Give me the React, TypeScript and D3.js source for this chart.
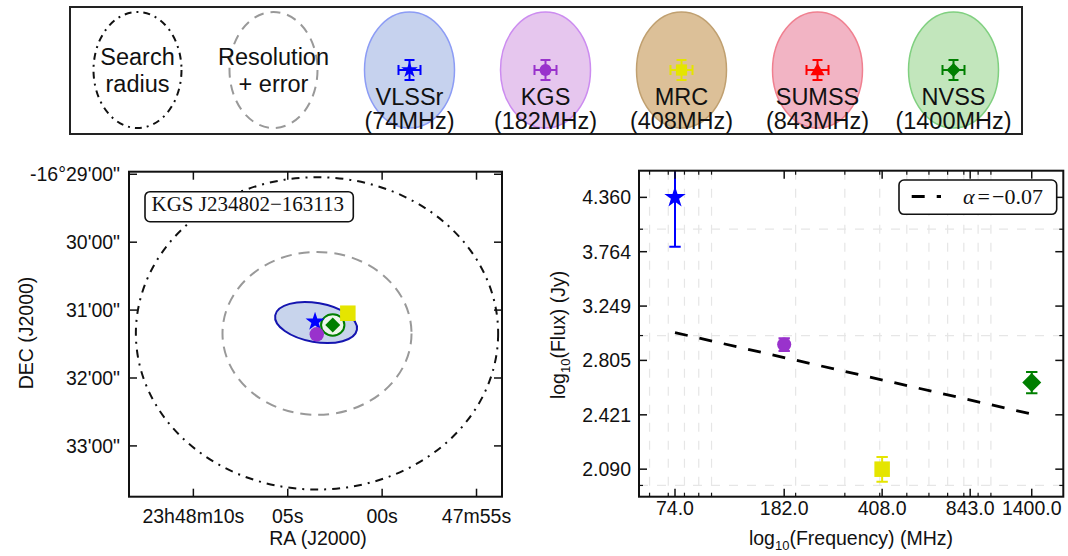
import React from 'react';
import * as d3 from 'd3';

// ---------- Top legend ----------
const legendLabels = ['Search', 'Resolution', 'VLSSr', 'KGS', 'MRC', 'SUMSS', 'NVSS'];
const legendSubLabels = ['radius', '+ error', '(74MHz)', '(182MHz)', '(408MHz)', '(843MHz)', '(1400MHz)'];
const catalogColors = ['#0000ff', '#9932cc', '#e5e500', '#ff0000', '#007f00'];
const catalogFills = ['#c6d2ee', '#e6c6ee', '#dcc098', '#f2b4c4', '#c2e6bc'];
const catalogStrokes = ['#8c9cf5', '#cc8cf0', '#c0a070', '#f08090', '#80d080'];
const catalogMarkers = ['star', 'circle', 'square', 'triangle', 'diamond'];

// ---------- Position panel (RA seconds after 23h48m00s, Dec arcmin south of -16°) ----------
const raTicks = [10, 5, 0, -5];
const raTickLabels = ['23h48m10s', '05s', '00s', '47m55s'];
const decTicks = [29, 30, 31, 32, 33];
const decTickLabels = ['-16°29\'00"', '30\'00"', '31\'00"', '32\'00"', '33\'00"'];
const srcRA = [3.554, 3.464, 1.817, 2.617]; // VLSSr, KGS, MRC, NVSS
const srcDec = [31.171, 31.356, 31.046, 31.219];
const srcMarkers = ['star', 'circle', 'square', 'diamond'];
const srcColors = ['#0000ff', '#9932cc', '#e5e500', '#007f00'];
const searchCenterRA = 3.45;
const searchCenterDec = 31.343;
const searchRadiusArcsec = 138;
const resolutionRadiusArcsec = 72;
const vlssrEllRA = 3.5;
const vlssrEllDec = 31.183;
const vlssrEllAxes = [31.6, 17.2]; // arcsec
const vlssrEllAngle = 10; // deg on screen
const nvssEllAxes = [8.9, 9.5];
const sourceName = 'KGS J234802\u2212163113';

// ---------- SED panel ----------
const sedFreq = [74, 182, 408, 1400];
const sedFlux = [4.36, 2.928, 2.09, 2.643];
const sedErr = [0.545, 0.05, 0.07, 0.076];
const sedMarkers = ['star', 'circle', 'square', 'diamond'];
const sedColors = ['#0000ff', '#9932cc', '#e5e500', '#007f00'];
const fitFreq = [74, 1400];
const fitFlux = [3.024, 2.426];
const fitLabel = '\u2212' + '0.07';
const freqTicks = [74, 182, 408, 843, 1400];
const freqMinor = [60, 70, 80, 90, 100, 200, 300, 400, 500, 600, 700, 800, 900, 1000];
const fluxTicks = [4.36, 3.764, 3.249, 2.805, 2.421, 2.09];
const fluxMinor = [2, 3, 4];

const SANS = 'Liberation Sans, Arial, sans-serif';
const SERIF = 'Liberation Serif, Times New Roman, serif';

function starPts(cx: number, cy: number, R: number) {
  const r = R * 0.382;
  const pts: string[] = [];
  for (let i = 0; i < 10; i++) {
    const a = (-90 + i * 36) * Math.PI / 180;
    const rr = i % 2 === 0 ? R : r;
    pts.push(`${cx + rr * Math.cos(a)},${cy + rr * Math.sin(a)}`);
  }
  return pts.join(' ');
}

function Marker({ type, cx, cy, s, color }: { type: string; cx: number; cy: number; s: number; color: string }) {
  if (type === 'star') return <polygon points={starPts(cx, cy, s * 1.25)} fill={color} />;
  if (type === 'circle') return <circle cx={cx} cy={cy} r={s * 0.85} fill={color} />;
  if (type === 'square') return <rect x={cx - s * 0.8} y={cy - s * 0.8} width={s * 1.6} height={s * 1.6} fill={color} />;
  if (type === 'triangle')
    return <polygon points={`${cx},${cy - s} ${cx + s},${cy + s * 0.75} ${cx - s},${cy + s * 0.75}`} fill={color} />;
  return <polygon points={`${cx},${cy - s} ${cx + s},${cy} ${cx},${cy + s} ${cx - s},${cy}`} fill={color} />;
}

export default function App() {
  // ---------- scales ----------
  const legendX = d3.scalePoint<string>().domain(legendLabels).range([137.5, 953.5]);
  const ra = d3.scaleLinear().domain([13.41, -6.35]).range([129, 502]);
  const dec = d3.scaleLinear().domain([28.962, 33.748]).range([171.7, 496.7]);
  const arcsecPerSec = 15 * Math.cos((16.52 * Math.PI) / 180);
  const pxX = (arcsec: number) => Math.abs(ra(arcsec / arcsecPerSec) - ra(0));
  const pxY = (arcsec: number) => Math.abs(dec(arcsec / 60) - dec(0));

  const fx = d3.scaleLog().domain([55, 1816]).range([639, 1063.3]);
  const fy = d3.scaleLog().domain([1.94, 4.686]).range([496.7, 170.7]);
  const fitLine = d3.line<number>().x((d, i) => fx(fitFreq[i])).y((d) => fy(d));

  const L = { x0: 129, x1: 502, y0: 171.7, y1: 496.7 };
  const R = { x0: 639, x1: 1063.3, y0: 170.7, y1: 496.7 };

  return (
    <svg width={1068} height={556} style={{ position: 'absolute', left: 0, top: 0, background: '#fff' }}>
      <defs>
        <clipPath id="clipR">
          <rect x={R.x0} y={R.y0} width={R.x1 - R.x0} height={R.y1 - R.y0} />
        </clipPath>
        <clipPath id="clipL">
          <rect x={L.x0} y={L.y0} width={L.x1 - L.x0} height={L.y1 - L.y0} />
        </clipPath>
      </defs>
      <rect width={1068} height={556} fill="#fff" />

      {/* ===== Top legend ===== */}
      <rect x={70} y={7} width={952} height={127} fill="#fff" stroke="#222" strokeWidth={2} />
      {legendLabels.map((lab, i) => {
        const cx = legendX(lab) as number;
        const cy = 70;
        let shape;
        if (i === 0)
          shape = <ellipse cx={cx} cy={cy} rx={44} ry={58} fill="none" stroke="#111" strokeWidth={2} strokeDasharray="7,5,2,5" />;
        else if (i === 1)
          shape = <ellipse cx={cx} cy={cy} rx={44} ry={58} fill="none" stroke="#999" strokeWidth={2} strokeDasharray="10,7" />;
        else {
          const k = i - 2;
          const col = catalogColors[k];
          shape = (
            <g>
              <ellipse cx={cx} cy={cy} rx={45} ry={58} fill={catalogFills[k]} stroke={catalogStrokes[k]} strokeWidth={1.5} />
              <g stroke={col} strokeWidth={2}>
                <line x1={cx - 11} x2={cx + 11} y1={cy} y2={cy} />
                <line x1={cx - 11} x2={cx - 11} y1={cy - 5} y2={cy + 5} />
                <line x1={cx + 11} x2={cx + 11} y1={cy - 5} y2={cy + 5} />
                <line x1={cx} x2={cx} y1={cy - 10} y2={cy + 10} />
                <line x1={cx - 5} x2={cx + 5} y1={cy - 10} y2={cy - 10} />
                <line x1={cx - 5} x2={cx + 5} y1={cy + 10} y2={cy + 10} />
              </g>
              <Marker type={catalogMarkers[k]} cx={cx} cy={cy} s={7} color={col} />
            </g>
          );
        }
        const y1 = i < 2 ? 65 : 104.5;
        const y2 = i < 2 ? 91.7 : 128.5;
        return (
          <g key={lab}>
            {shape}
            <text x={cx} y={y1} textAnchor="middle" fontFamily={SANS} fontSize={23.5} fill="#111">{lab}</text>
            <text x={cx} y={y2} textAnchor="middle" fontFamily={SANS} fontSize={23.5} fill="#111">{legendSubLabels[i]}</text>
          </g>
        );
      })}

      {/* ===== Left: position panel ===== */}
      <g clipPath="url(#clipL)">
        <ellipse cx={ra(searchCenterRA)} cy={dec(searchCenterDec)} rx={pxX(searchRadiusArcsec)} ry={pxY(searchRadiusArcsec)}
          fill="none" stroke="#111" strokeWidth={2} strokeDasharray="8,6,2,6" />
        <ellipse cx={ra(searchCenterRA)} cy={dec(searchCenterDec)} rx={pxX(resolutionRadiusArcsec)} ry={pxY(resolutionRadiusArcsec)}
          fill="none" stroke="#999" strokeWidth={2} strokeDasharray="11,7" />
        <ellipse cx={ra(vlssrEllRA)} cy={dec(vlssrEllDec)} rx={pxX(vlssrEllAxes[0])} ry={pxY(vlssrEllAxes[1])}
          transform={`rotate(${vlssrEllAngle} ${ra(vlssrEllRA)} ${dec(vlssrEllDec)})`}
          fill="#c8d4ec" stroke="#1515b0" strokeWidth={2} />
        <ellipse cx={ra(srcRA[3])} cy={dec(srcDec[3])} rx={pxX(nvssEllAxes[0])} ry={pxY(nvssEllAxes[1])}
          fill="#eef6ec" stroke="#007f00" strokeWidth={2} />
        {srcMarkers.map((m, i) => (
          <Marker key={m} type={m} cx={ra(srcRA[i])} cy={dec(srcDec[i])}
            s={m === 'star' ? 8 : m === 'circle' ? 8.5 : m === 'square' ? 9.7 : 7.5} color={srcColors[i]} />
        ))}
      </g>
      <rect x={145} y={191.7} width={208.3} height={30} rx={5} fill="#fff" stroke="#111" strokeWidth={1.6} />
      <text x={151.5} y={210.5} fontFamily={SERIF} fontSize={21} fill="#111">{sourceName}</text>

      <rect x={L.x0} y={L.y0} width={L.x1 - L.x0} height={L.y1 - L.y0} fill="none" stroke="#111" strokeWidth={2} />
      {raTicks.map((t, i) => (
        <g key={t}>
          <line x1={ra(t)} x2={ra(t)} y1={L.y1} y2={L.y1 - 8} stroke="#111" strokeWidth={1.5} />
          <line x1={ra(t)} x2={ra(t)} y1={L.y0} y2={L.y0 + 8} stroke="#111" strokeWidth={1.5} />
          <text x={ra(t)} y={523} textAnchor="middle" fontFamily={SANS} fontSize={19.5} fill="#111">{raTickLabels[i]}</text>
        </g>
      ))}
      {decTicks.map((t, i) => (
        <g key={t}>
          <line x1={L.x0} x2={L.x0 + 8} y1={dec(t)} y2={dec(t)} stroke="#111" strokeWidth={1.5} />
          <line x1={L.x1} x2={L.x1 - 8} y1={dec(t)} y2={dec(t)} stroke="#111" strokeWidth={1.5} />
          <text x={120} y={dec(t)} dy="0.36em" textAnchor="end" fontFamily={SANS} fontSize={19.5} fill="#111">{decTickLabels[i]}</text>
        </g>
      ))}
      <text x={318} y={545} textAnchor="middle" fontFamily={SANS} fontSize={19.5} fill="#111">RA (J2000)</text>
      <text transform="translate(33,333) rotate(-90)" textAnchor="middle" fontFamily={SANS} fontSize={19.5} fill="#111">DEC (J2000)</text>

      {/* ===== Right: SED panel ===== */}
      <g stroke="#e6e6e6" strokeWidth={1.2} strokeDasharray="9,9">
        {freqMinor.map((f) => (
          <line key={'gx' + f} x1={fx(f)} x2={fx(f)} y1={R.y0} y2={R.y1} />
        ))}
        {fluxMinor.map((f) => (
          <line key={'gy' + f} x1={R.x0} x2={R.x1} y1={fy(f)} y2={fy(f)} />
        ))}
      </g>
      <path d={fitLine(fitFlux) || ''} fill="none" stroke="#000" strokeWidth={2.8} strokeDasharray="13,12" />
      <g clipPath="url(#clipR)">
        {sedFreq.map((f, i) => {
          const x = fx(f);
          const yt = fy(sedFlux[i] + sedErr[i]);
          const yb = fy(sedFlux[i] - sedErr[i]);
          return (
            <g key={f}>
              <g stroke={sedColors[i]} strokeWidth={2}>
                <line x1={x} x2={x} y1={yt} y2={yb} />
                <line x1={x - 5.7} x2={x + 5.7} y1={yt} y2={yt} />
                <line x1={x - 5.7} x2={x + 5.7} y1={yb} y2={yb} />
              </g>
              <Marker type={sedMarkers[i]} cx={x} cy={fy(sedFlux[i])}
                s={sedMarkers[i] === 'star' ? 9 : sedMarkers[i] === 'circle' ? 8.3 : sedMarkers[i] === 'square' ? 9.7 : 9.5}
                color={sedColors[i]} />
            </g>
          );
        })}
      </g>
      <rect x={R.x0} y={R.y0} width={R.x1 - R.x0} height={R.y1 - R.y0} fill="none" stroke="#111" strokeWidth={2} />
      {freqMinor.map((f) => (
        <g key={'mx' + f} stroke="#111" strokeWidth={1.2}>
          <line x1={fx(f)} x2={fx(f)} y1={R.y1} y2={R.y1 - 4} />
          <line x1={fx(f)} x2={fx(f)} y1={R.y0} y2={R.y0 + 4} />
        </g>
      ))}
      {freqTicks.map((f) => (
        <g key={'tx' + f}>
          <line x1={fx(f)} x2={fx(f)} y1={R.y1} y2={R.y1 - 8} stroke="#111" strokeWidth={1.5} />
          <line x1={fx(f)} x2={fx(f)} y1={R.y0} y2={R.y0 + 8} stroke="#111" strokeWidth={1.5} />
          <text x={fx(f)} y={515} textAnchor="middle" fontFamily={SANS} fontSize={19.5} fill="#111">{f.toFixed(1)}</text>
        </g>
      ))}
      {fluxMinor.map((f) => (
        <g key={'my' + f} stroke="#111" strokeWidth={1.2}>
          <line x1={R.x0} x2={R.x0 + 4} y1={fy(f)} y2={fy(f)} />
          <line x1={R.x1} x2={R.x1 - 4} y1={fy(f)} y2={fy(f)} />
        </g>
      ))}
      {fluxTicks.map((f) => (
        <g key={'ty' + f}>
          <line x1={R.x0} x2={R.x0 + 8} y1={fy(f)} y2={fy(f)} stroke="#111" strokeWidth={1.5} />
          <line x1={R.x1} x2={R.x1 - 8} y1={fy(f)} y2={fy(f)} stroke="#111" strokeWidth={1.5} />
          <text x={631} y={fy(f)} dy="0.36em" textAnchor="end" fontFamily={SANS} fontSize={19.5} fill="#111">{f.toFixed(3)}</text>
        </g>
      ))}
      <text x={851} y={545} textAnchor="middle" fontFamily={SANS} fontSize={19.5} fill="#111">
        log<tspan fontSize={13} dy={5}>10</tspan><tspan dy={-5}>(Frequency) (MHz)</tspan>
      </text>
      <text transform="translate(565,335) rotate(-90)" textAnchor="middle" fontFamily={SANS} fontSize={19.5} fill="#111">
        log<tspan fontSize={13} dy={5}>10</tspan><tspan dy={-5}>(Flux) (Jy)</tspan>
      </text>

      {/* legend of SED */}
      <rect x={899} y={180} width={157.7} height={34.3} rx={5} fill="#fff" stroke="#111" strokeWidth={1.6} />
      <line x1={911.7} x2={941} y1={196.5} y2={196.5} stroke="#000" strokeWidth={2.8} strokeDasharray="13,12" />
      <text x={963} y={203.5} fontFamily={SERIF} fontSize={22} fill="#111">
        <tspan fontStyle="italic">α</tspan>
        <tspan dx={3}>=</tspan>
        <tspan dx={2}>{fitLabel}</tspan>
      </text>
    </svg>
  );
}
